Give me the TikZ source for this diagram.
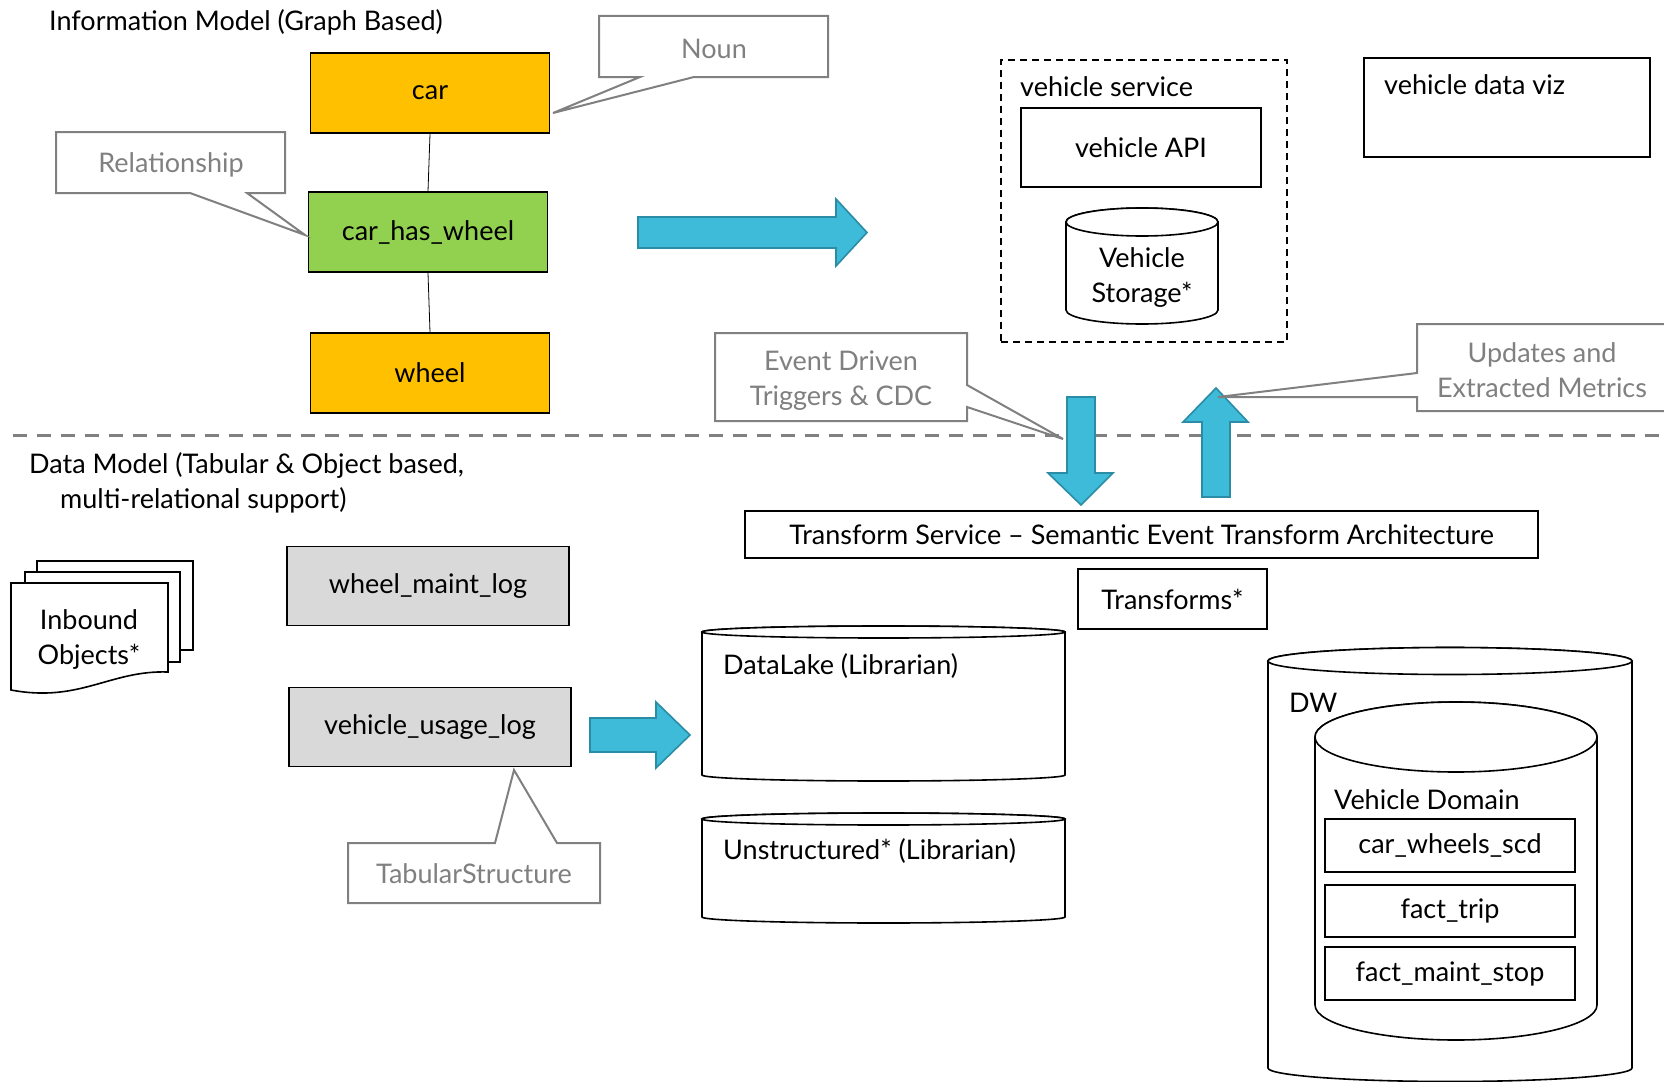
\documentclass[tikz,border=0pt]{standalone}
\usepackage{fontspec}
\setmainfont{Lato}
\newcommand\dfs{\fontsize{27}{35}\selectfont}
\definecolor{cOrange}{HTML}{FFC000}
\definecolor{cGreen}{HTML}{92D050}
\definecolor{cLGray}{HTML}{D9D9D9}
\definecolor{cGray}{HTML}{808080}
\definecolor{cBlue}{HTML}{3DBBD8}
\definecolor{cBlueD}{HTML}{2B8CA6}
\begin{document}
\begin{tikzpicture}[x=1pt,y=1pt,
  txt/.style={font=\dfs, inner sep=0pt, text=black},
  gtxt/.style={font=\dfs, inner sep=0pt, text=cGray, align=center},
  box/.style={draw=black, line width=1.6pt, font=\dfs, inner sep=0pt},
  entity/.style={box, fill=cOrange, minimum width=239pt, minimum height=80pt},
  rel/.style={box, fill=cGreen, minimum width=239pt, minimum height=80pt},
  tbl/.style={box, fill=cLGray, minimum width=282pt, minimum height=79pt},
  dwbox/.style={box, fill=white, minimum width=250pt, minimum height=52pt},
  callout/.style={draw=cGray, line width=2pt, fill=white, line join=miter},
  blockarrow/.style={draw=cBlueD, line width=1.6pt, fill=cBlue, line join=miter},
  link/.style={draw=black, line width=0.8pt},
  cyl/.style={draw=black, line width=1.6pt, fill=white}
]
\useasboundingbox (0,0) rectangle (1664,-1081);

% ---------- Information model ----------
\node[txt, anchor=west] (title1) at (49,-22) {Information Model (Graph Based)};

\node[entity] (car) at (430,-93) {car};
\node[rel] (chw) at (428,-232) {car\_has\_wheel};
\node[entity] (wheel) at (430,-373) {wheel};
\draw[link] (car.south) -- (chw.north);
\draw[link] (chw.south) -- (wheel.north);

% big right arrow
\draw[blockarrow] (638,-217) -- (836,-217) -- (836,-199) -- (867,-232.5) -- (836,-266) -- (836,-248) -- (638,-248) -- cycle;

% vehicle service
\node[draw=black, line width=1.6pt, dash pattern=on 7pt off 5pt, minimum width=286pt, minimum height=282pt, inner sep=0pt] (vsvc) at (1144,-201) {};
\node[txt, anchor=west] (vsvclbl) at (1020,-87) {vehicle service};
\node[box, minimum width=240pt, minimum height=79pt] (api) at (1141,-147.5) {vehicle API};
% Vehicle storage cylinder
\draw[cyl] (1066,-222) -- (1066,-310) arc[start angle=180, end angle=360, x radius=76, y radius=14] -- (1218,-222) arc[start angle=0, end angle=180, x radius=76, y radius=14] -- cycle;
\draw[cyl] (1142,-222) ellipse[x radius=76, y radius=14];
\node[txt, align=center] (vstore) at (1142,-278) {Vehicle\\Storage*};

% vehicle data viz
\node[box, minimum width=286pt, minimum height=99pt] (viz) at (1507,-107.5) {};
\node[txt, anchor=west] (vizlbl) at (1384,-85) {vehicle data viz};

% separator
\coordinate (sepL) at (13,-435);
\coordinate (sepR) at (1664,-435);
\draw[cGray, line width=3pt, dash pattern=on 14pt off 10pt] (sepL) -- (sepR);

% down / up arrows
\draw[blockarrow] (1067,-397) -- (1095,-397) -- (1095,-473) -- (1113,-473) -- (1081,-505) -- (1048,-473) -- (1067,-473) -- cycle;
\draw[blockarrow] (1202,-497) -- (1230,-497) -- (1230,-422) -- (1248,-422) -- (1216,-388) -- (1183,-422) -- (1202,-422) -- cycle;

% ---------- Data model ----------
\node[txt, anchor=north west, align=left] (title2) at (29,-452) {Data Model (Tabular \& Object based,\\\hspace*{31pt}multi-relational support)};

% Inbound objects (multi-document)
\draw[cyl] (37,-561) rectangle (193,-650);
\draw[cyl] (25,-572) rectangle (180,-662);
\draw[cyl] (11,-583) -- (168,-583) -- (168,-672) .. controls (110,-670) and (80,-703) .. (11,-690) -- cycle;
\node[txt, align=center] (inbound) at (89,-640) {Inbound\\Objects*};

\node[tbl] (wml) at (428,-586) {wheel\_maint\_log};
\node[tbl] (vul) at (430,-727) {vehicle\_usage\_log};

% small right arrow
\draw[blockarrow] (590,-718) -- (656,-718) -- (656,-702) -- (690,-735) -- (656,-768) -- (656,-752) -- (590,-752) -- cycle;

% Transform service
\node[box, minimum width=793pt, minimum height=47pt] (tsvc) at (1141.5,-534.5) {Transform Service – Semantic Event Transform Architecture};
\node[box, minimum width=189pt, minimum height=60pt] (tfm) at (1172.5,-599) {Transforms*};

% DataLake cylinder
\draw[cyl] (702,-632) -- (702,-775) arc[start angle=180, end angle=360, x radius=181.5, y radius=6] -- (1065,-632) arc[start angle=0, end angle=180, x radius=181.5, y radius=6] -- cycle;
\draw[cyl] (883.5,-632) ellipse[x radius=181.5, y radius=6];
\node[txt, anchor=west] (dl) at (723,-666) {DataLake (Librarian)};

% Unstructured cylinder
\draw[cyl] (702,-819) -- (702,-917) arc[start angle=180, end angle=360, x radius=181.5, y radius=6] -- (1065,-819) arc[start angle=0, end angle=180, x radius=181.5, y radius=6] -- cycle;
\draw[cyl] (883.5,-819) ellipse[x radius=181.5, y radius=6];
\node[txt, anchor=west] (us) at (723,-851) {Unstructured* (Librarian)};

% DW cylinder
\draw[cyl] (1268,-661) -- (1268,-1068) arc[start angle=180, end angle=360, x radius=182, y radius=13.5] -- (1632,-661) arc[start angle=0, end angle=180, x radius=182, y radius=13.5] -- cycle;
\draw[cyl] (1450,-661) ellipse[x radius=182, y radius=13.5];
\node[txt, anchor=west] (dw) at (1289,-703) {DW};

% Vehicle domain cylinder
\draw[cyl] (1315,-737) -- (1315,-1005) arc[start angle=180, end angle=360, x radius=141, y radius=35] -- (1597,-737) arc[start angle=0, end angle=180, x radius=141, y radius=35] -- cycle;
\draw[cyl] (1456,-737) ellipse[x radius=141, y radius=35];
\node[txt, anchor=west] (vd) at (1334,-800) {Vehicle Domain};

\node[dwbox, minimum height=53pt] (cws) at (1450,-845.5) {car\_wheels\_scd};
\node[dwbox] (ft) at (1450,-911) {fact\_trip};
\node[dwbox, minimum height=53pt] (fms) at (1450,-973.5) {fact\_maint\_stop};

% ---------- Callouts ----------
\draw[callout] (599,-16) -- (828,-16) -- (828,-77) -- (694,-77) -- (553,-113) -- (640,-77) -- (599,-77) -- cycle;
\node[gtxt] (noun) at (714,-49) {Noun};

\draw[callout] (56,-132) -- (285,-132) -- (285,-193) -- (247,-193) -- (305,-235) -- (190,-193) -- (56,-193) -- cycle;
\node[gtxt] (relc) at (171,-165) {Relationship};

\draw[callout] (715,-333) -- (967,-333) -- (967,-385) -- (1063,-439) -- (967,-407) -- (967,-421) -- (715,-421) -- cycle;
\node[gtxt] (evt) at (841,-381) {Event Driven\\Triggers \& CDC};

\draw[callout] (1417,-324) -- (1672,-324) -- (1672,-411) -- (1417,-411) -- (1417,-397) -- (1218,-397) -- (1417,-373) -- cycle;
\node[gtxt] (upd) at (1542,-370) {Updates and\\Extracted Metrics};

\draw[callout] (348,-843) -- (495,-843) -- (514,-770) -- (557,-843) -- (600,-843) -- (600,-903) -- (348,-903) -- cycle;
\node[gtxt] (tab) at (474,-874) {TabularStructure};
\end{tikzpicture}
\end{document}
